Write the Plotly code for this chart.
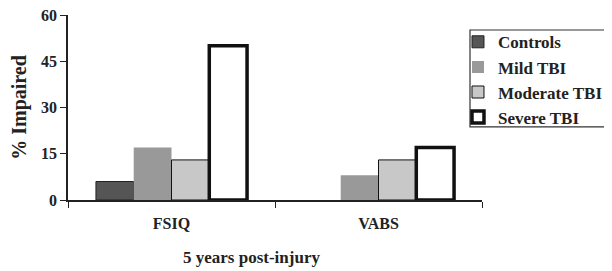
import plotly.graph_objects as go

categories = ["FSIQ", "VABS"]
series_names = ["Controls", "Mild TBI", "Moderate TBI", "Severe TBI"]
controls = [6, 0]
mild = [17, 8]
moderate = [13, 13]
severe = [50, 17]
y_ticks = [0, 15, 30, 45, 60]

FONT = "Times New Roman, Liberation Serif, serif"
INK = "#222222"

fig = go.Figure()
fig.add_trace(go.Bar(name=series_names[0], x=categories, y=controls,
                     marker=dict(color="#555555", line=dict(color=INK, width=[1, 0]))))
fig.add_trace(go.Bar(name=series_names[1], x=categories, y=mild,
                     marker=dict(color="#999999", line=dict(color="#999999", width=0))))
fig.add_trace(go.Bar(name=series_names[2], x=categories, y=moderate,
                     marker=dict(color="#c8c8c8", line=dict(color="#111111", width=1))))
fig.add_trace(go.Bar(name=series_names[3], x=categories, y=severe,
                     marker=dict(color="#ffffff", line=dict(color="#111111", width=3.5))))

fig.update_layout(
    width=604, height=263,
    margin=dict(l=60, r=130, t=7, b=71, autoexpand=False),
    paper_bgcolor="white", plot_bgcolor="white",
    barmode="group", bargap=0.27, bargroupgap=0,
    font=dict(family=FONT, color=INK, size=15),
    showlegend=True,
    legend=dict(x=0.942, y=0.95, xanchor="left", yanchor="top",
                borderwidth=0, bgcolor="rgba(0,0,0,0)",
                font=dict(family=FONT, size=17, color=INK, weight="bold"),
                itemclick=False),
    shapes=[dict(type="rect", xref="paper", yref="paper", x0=0.971, x1=1.31, y0=0.395, y1=0.919,
                 line=dict(color="#333333", width=1.2), fillcolor="rgba(0,0,0,0)", layer="above")],
    xaxis=dict(showline=True, linecolor=INK, linewidth=1.5, automargin=False,
               ticks="outside", ticklen=6, tickcolor=INK, tickson="boundaries",
               tickfont=dict(family=FONT, size=16, weight="bold"),
               ticklabelstandoff=8, showgrid=False, zeroline=False),
    yaxis=dict(range=[0, 60], tickvals=y_ticks, showline=True, linecolor=INK,
               linewidth=1.5, ticks="outside", ticklen=6, tickcolor=INK, automargin=False,
               tickfont=dict(family=FONT, size=16, weight="bold"),
               ticklabeloverflow="allow",
               showgrid=False, zeroline=False,
               title=dict(text="% Impaired", font=dict(family=FONT, size=20, weight="bold"), standoff=10)),
    annotations=[dict(text="5 years post-injury", xref="paper", yref="paper",
                      x=0.444, y=-0.31, xanchor="center", yanchor="middle", showarrow=False,
                      font=dict(family=FONT, size=17, weight="bold", color=INK))],
)

fig.write_html("out.html")
